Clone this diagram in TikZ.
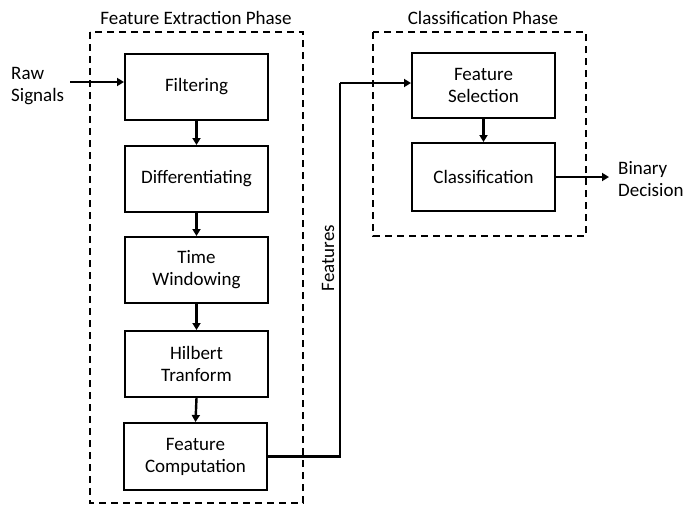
\documentclass[tikz,border=0pt]{standalone}
\usepackage{fontspec}
\setmainfont{Carlito}
\usetikzlibrary{arrows.meta}
\begin{document}
\begin{tikzpicture}[x=1pt,y=-1pt,
  blk/.style={draw,line width=2pt,minimum width=143pt,minimum height=66pt,align=center,font=\fontsize{19}{22}\selectfont,inner sep=0pt},
  lbl/.style={font=\fontsize{19}{22}\selectfont,inner sep=0pt},
  phase/.style={draw,dashed,line width=1.6pt,dash pattern=on 7pt off 5pt},
  arr/.style={line width=2.4pt,-{Triangle[length=7pt,width=8pt]}},
  lin/.style={line width=2.4pt}]
\useasboundingbox (0,0) rectangle (683,506);
% phases
\draw[phase] (90,32) rectangle (303,503);
\draw[phase] (373,32) rectangle (586,236);
\node[lbl] (t1) at (196,18) {Feature Extraction Phase};
\node[lbl] (t2) at (483,18) {Classification Phase};
% blocks
\node[blk] (filt) at (196.5,87) {Filtering};
\node[blk] (diff) at (196.5,179) {Differentiating};
\node[blk] (tw) at (196.5,270) {Time\\Windowing};
\node[blk] (hil) at (196.5,364) {Hilbert\\Tranform};
\node[blk,minimum height=67pt] (fc) at (195.5,456.5) {Feature\\Computation};
\node[blk,minimum height=65pt] (fs) at (483.5,85.5) {Feature\\Selection};
\node[blk,minimum height=68pt] (cls) at (483.5,177) {Classification};
% texts
\node[lbl,align=left,anchor=west] (raw) at (11,86) {Raw\\Signals};
\node[lbl,align=left,anchor=west] (bin) at (618,179) {Binary\\Decision};
\node[lbl,rotate=90] (feat) at (328,258) {Features};
% connectors
\coordinate (rawin) at (70,82);
\draw[arr] (rawin) -- (filt.west |- rawin);
\draw[arr] (filt.south) -- (diff.north);
\draw[arr] (diff.south) -- (tw.north);
\draw[arr] (tw.south) -- (hil.north);
\draw[arr] (hil.south) -- (fc.north);
\draw[arr] (fs.south) -- (cls.north);
\coordinate (bend) at (340,83);
\draw[lin] (fc.east) -| (bend);
\draw[arr] (bend) -- (fs.west |- bend);
\coordinate (out) at (609,177);
\draw[arr] (cls.east |- out) -- (out);
\end{tikzpicture}
\end{document}
